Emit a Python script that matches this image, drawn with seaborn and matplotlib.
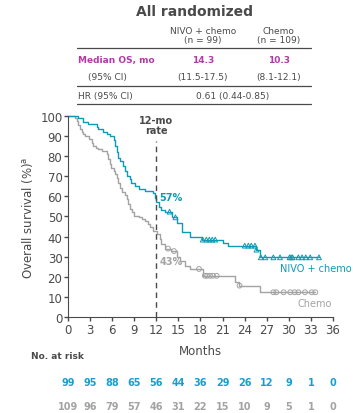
import numpy as np
import pandas as pd
import seaborn as sns
import matplotlib.pyplot as plt
from matplotlib.lines import Line2D

sns.set_style("ticks")
plt.rcParams['font.family'] = ['DejaVu Sans']

TEAL = "#0e9bb4"
GREY = "#a3a3a3"
DARK = "#4a4a4a"
MAGENTA = "#b23aa6"

# KM step data (month, survival %)
nivo_time = [0, 1.4, 2.0, 2.7, 3.9, 4.1, 4.8, 5.3, 5.7, 6.2, 6.4, 6.6, 6.8, 7.1, 7.5, 7.7,
             8.0, 8.4, 8.6, 9.1, 9.6, 10.5, 11.5, 11.8, 12.0, 12.3, 12.7, 13.2, 14.1, 14.8,
             15.5, 16.6, 18.2, 21.1, 21.8, 25.6, 26.1, 34.1]
nivo_surv = [100, 99, 97, 96, 94.7, 93.4, 92, 91, 90, 88, 85, 82, 79, 77.6, 75, 72.6,
             70, 68.5, 66.8, 65, 63.5, 62.7, 61.5, 59, 57, 54.7, 53.4, 52.4, 49.6, 47,
             42.1, 40, 38.5, 36.8, 35.5, 33.5, 29.7, 29.7]
chemo_time = [0, 0.95, 1.2, 1.4, 1.6, 1.9, 2.1, 2.3, 2.8, 3.2, 3.4, 3.8, 4.1, 4.6, 5.3, 5.5,
              5.7, 5.9, 6.2, 6.4, 6.6, 6.8, 7.1, 7.3, 7.7, 8.0, 8.2, 8.4, 8.7, 8.9, 9.6,
              10.0, 10.5, 10.9, 11.1, 11.6, 12.1, 12.5, 12.7, 13.2, 14.0, 14.8, 15.2, 15.9,
              16.6, 18.4, 22.7, 23.2, 26.1, 33.6]
chemo_surv = [100, 99, 97.5, 95.5, 93.4, 92.2, 90.9, 90, 88.4, 86.7, 85, 84, 83.4, 82.6, 81, 78.4,
              76, 74.3, 72.6, 71, 69.3, 66.8, 64.3, 62, 60.5, 58.5, 56, 53.5, 52, 50.4, 49.6,
              48.8, 47.9, 46.3, 44.6, 43, 41.3, 38.8, 36.3, 34, 32.8, 29.7, 28, 25.5,
              23.9, 20.5, 17.3, 15.6, 12.3, 12.3]

nivo_censor = [13.8, 14.6, 18.3, 18.8, 19.2, 19.6, 20.0, 24.0, 24.5, 24.9, 25.4, 25.6, 26.2,
               26.8, 27.9, 28.8, 30.1, 30.3, 30.5, 31.3, 31.8, 32.3, 32.9, 34.1]
chemo_censor = [13.6, 14.4, 17.8, 18.6, 18.9, 19.3, 19.7, 20.2, 23.3, 27.9, 28.3, 29.3, 30.2,
                30.8, 31.3, 32.2, 33.1, 33.6]

risk_months = [0, 3, 6, 9, 12, 15, 18, 21, 24, 27, 30, 33, 36]
nivo_risk = [99, 95, 88, 65, 56, 44, 36, 29, 26, 12, 9, 1, 0]
chemo_risk = [109, 96, 79, 57, 46, 31, 22, 15, 10, 9, 5, 1, 0]
y_ticks = [0, 10, 20, 30, 40, 50, 60, 70, 80, 90, 100]


def at(times, surv, t):
    i = np.searchsorted(times, t, side='right') - 1
    return surv[i]


fig = plt.figure(figsize=(3.53, 4.14), dpi=100)
ax = fig.add_axes([0.1926, 0.2319, 0.7507, 0.4855])

sns.lineplot(x=chemo_time, y=chemo_surv, drawstyle='steps-post', estimator=None, sort=False,
             color=GREY, lw=1.0, ax=ax, clip_on=False)
sns.lineplot(x=nivo_time, y=nivo_surv, drawstyle='steps-post', estimator=None, sort=False,
             color=TEAL, lw=1.0, ax=ax, clip_on=False)

cz = pd.DataFrame({"t": chemo_censor,
                   "s": [at(chemo_time, chemo_surv, t) for t in chemo_censor]})
nz = pd.DataFrame({"t": nivo_censor,
                   "s": [at(nivo_time, nivo_surv, t) for t in nivo_censor]})
sns.scatterplot(data=cz, x="t", y="s", marker='o', s=12, facecolors='none',
                edgecolor=GREY, linewidth=0.7, ax=ax, zorder=3)
sns.scatterplot(data=nz, x="t", y="s", marker='^', s=12, facecolors='none',
                edgecolor=TEAL, linewidth=0.7, ax=ax, zorder=3)

ax.axvline(12, ymin=0, ymax=0.875, color=DARK, ls=(0, (4, 3)), lw=1)
ax.text(12, 95.5, "12-mo\nrate", ha='center', va='center', fontsize=7, color=DARK,
        fontweight='bold', linespacing=1.1)
ax.text(12.4, 59.5, "57%", color=TEAL, fontsize=7, fontweight='bold', va='center')
ax.text(12.4, 28, "43%", color=GREY, fontsize=7, fontweight='bold', va='center')
ax.text(28.8, 24.4, "NIVO + chemo", color=TEAL, fontsize=7, va='center', clip_on=False)
ax.text(31.2, 7, "Chemo", color=GREY, fontsize=7, va='center')

ax.set_xlim(0, 36)
ax.set_ylim(0, 100)
ax.set_xticks(risk_months)
ax.set_yticks(y_ticks)
ax.tick_params(colors=DARK, labelsize=8.5, length=3, width=1, pad=1)
for sp in ['left', 'bottom']:
    ax.spines[sp].set_color(DARK)
sns.despine(ax=ax)
ax.set_xlabel("Months", fontsize=8.5, color=DARK, labelpad=6)
ax.set_ylabel(r"Overall survival (%)$^{\mathrm{a}}$", fontsize=8.5, color=DARK, labelpad=4)

# number at risk
ax.text(-5.0, -0.194, "No. at risk", transform=ax.get_xaxis_transform(), fontsize=6.5,
        color=DARK, fontweight='bold', va='center', ha='left')
for m, a, b in zip(risk_months, nivo_risk, chemo_risk):
    ax.text(m, -0.323, str(a), transform=ax.get_xaxis_transform(), ha='center', va='center',
            fontsize=7, color="#1a9fcc", fontweight='bold', clip_on=False)
    ax.text(m, -0.443, str(b), transform=ax.get_xaxis_transform(), ha='center', va='center',
            fontsize=7, color=GREY, fontweight='bold', clip_on=False)

# header table
fig.text(0.552, 0.970, "All randomized", ha='center', va='center', fontsize=10,
         fontweight='bold', color=DARK)
kw = dict(ha='center', va='center', fontsize=6.5, color=DARK, linespacing=1.1)
fig.text(0.575, 0.913, "NIVO + chemo\n(n = 99)", **kw)
fig.text(0.790, 0.913, "Chemo\n(n = 109)", **kw)
fig.text(0.221, 0.855, "Median OS, mo", ha='left', va='center', fontsize=6.5, color=MAGENTA,
         fontweight='bold')
fig.text(0.575, 0.855, "14.3", ha='center', va='center', fontsize=6.5, color=MAGENTA,
         fontweight='bold')
fig.text(0.790, 0.855, "10.3", ha='center', va='center', fontsize=6.5, color=MAGENTA,
         fontweight='bold')
fig.text(0.249, 0.812, "(95% CI)", ha='left', va='center', fontsize=6.5, color=DARK)
fig.text(0.575, 0.812, "(11.5-17.5)", **kw)
fig.text(0.790, 0.812, "(8.1-12.1)", **kw)
fig.text(0.221, 0.768, "HR (95% CI)", ha='left', va='center', fontsize=6.5, color=DARK)
fig.text(0.660, 0.768, "0.61 (0.44-0.85)", **kw)
for yy in [0.882, 0.790, 0.746]:
    fig.add_artist(Line2D([0.218, 0.880], [yy, yy], color=DARK, lw=0.9))

fig.savefig("out.png", dpi=100)
